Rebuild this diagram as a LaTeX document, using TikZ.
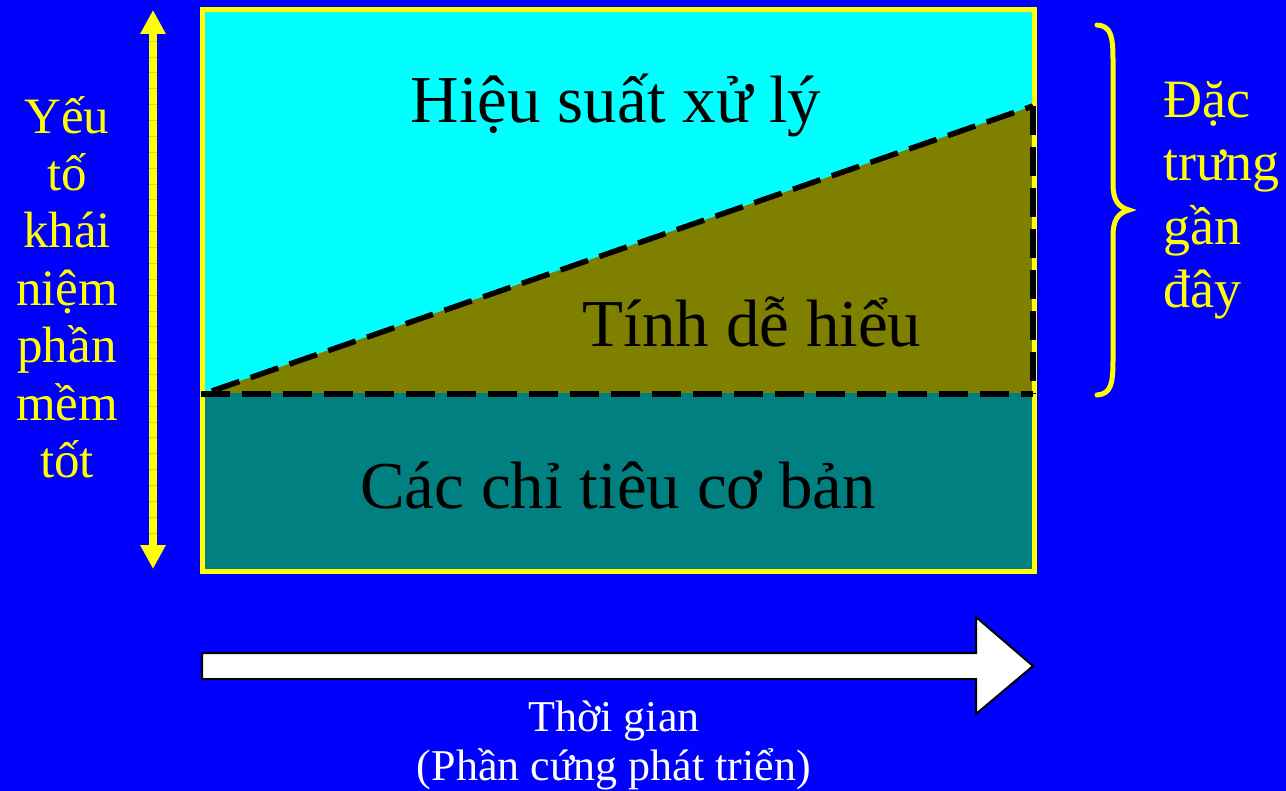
\documentclass[tikz,border=0pt]{standalone}
\usepackage{fontspec}
\setmainfont{Liberation Serif}
\usepackage{xcolor}
\definecolor{slideBack}  {HTML}{0000FF}
\definecolor{perfBack}   {HTML}{00FFFF}
\definecolor{clearBack}  {HTML}{808000}
\definecolor{baseBack}   {HTML}{008080}
\definecolor{markYellow} {HTML}{FFFF00}
\usetikzlibrary{arrows.meta, positioning, calc}

\begin{document}
\begin{tikzpicture}[x=1pt, y=-1pt,
    boxtext/.style={anchor=base, inner sep=0pt, text=black,
      font=\fontsize{67}{80}\selectfont},
    sidetext/.style={inner sep=0pt, text=markYellow, align=center},
    splitline/.style={black, line width=5.5pt, dash pattern=on 29pt off 12pt}]
    % Slide background, fixes the page size too.
    \useasboundingbox (0,0) rectangle (1286,791);
    \fill[slideBack] (0,0) rectangle (1286,791);

    % --- The box: three bands ---
    \fill[perfBack]  (202,10) rectangle (1034,571);
    \fill[clearBack] (205,393) -- (1033,106) -- (1033,393) -- cycle;
    \fill[baseBack]  (202,393) rectangle (1034,571);
    \draw[markYellow, line width=5pt] (202,10) rectangle (1034,571);

    % --- Dashed borders of the middle band ---
    \draw[splitline] (212,391) -- (1033,106);
    \draw[splitline] (1033,106) -- (1033,394);
    \draw[splitline] (201,394) -- (1033,394);

    \node[boxtext] (perf)    at (616,123) {Hiệu suất xử lý};
    \node[boxtext] (clarity) at (752,347) {Tính dễ hiểu};
    \node[boxtext] (basics)  at (618,508) {Các chỉ tiêu cơ bản};

    % --- Left: double arrow and its label ---
    \coordinate (vtop) at (153,10);
    \coordinate (vbot) at (153,569);
    \draw[markYellow, line width=8pt,
      {Triangle[width=24pt, length=24pt]}-{Triangle[width=24pt, length=24pt]}]
      (vtop) -- (vbot);
    \foreach \i in {0,...,31}
      \draw[yellow!85!black, line width=0.5pt] (149,41+\i*15.87) -- (157,41+\i*15.87);
    \node[sidetext, anchor=base, font=\fontsize{51}{57.5}\selectfont] (goodsw) at (67,478)
      {Yếu\\tố\\khái\\niệm\\phần\\mềm\\tốt};

    % --- Right: brace and its label ---
    \draw[markYellow, line width=5pt, line cap=round]
      (1097,25) .. controls (1111,26) and (1113,36) .. (1113,60) -- (1113,184)
      .. controls (1113,200) and (1118,207) .. (1129,210)
      .. controls (1118,213) and (1113,220) .. (1113,236) -- (1113,360)
      .. controls (1113,384) and (1111,394) .. (1097,395);
    \node[sidetext, anchor=base west, align=left, font=\fontsize{54}{63.5}\selectfont]
      (recent) at (1163,308) {Đặc\\trưng\\gần\\đây};

    % --- Bottom: time arrow ---
    \fill[white] (202,653) -- (976,653) -- (976,617) -- (1033,666)
      -- (976,714) -- (976,679) -- (202,679) -- cycle;
    \draw[black, line width=2pt, line join=miter] (202,653) -- (976,653) -- (976,617)
      -- (1033,666) -- (976,714) -- (976,679) -- (202,679) -- cycle;
    \node[inner sep=0pt, anchor=base, align=center, text=white,
      font=\fontsize{44}{49}\selectfont] (time) at (614,780)
      {Thời gian\\(Phần cứng phát triển)};
\end{tikzpicture}
\end{document}
